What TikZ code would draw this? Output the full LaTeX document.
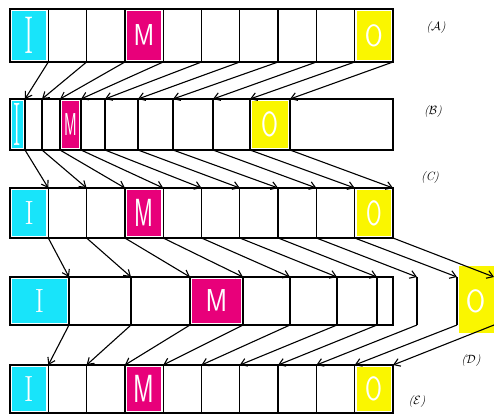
\documentclass[tikz,border=0pt]{standalone}
\usepackage{graphicx}
\usetikzlibrary{arrows.meta,positioning}

\definecolor{cyanI}{RGB}{24,228,250}
\definecolor{magentaM}{RGB}{232,0,122}
\definecolor{yellowO}{RGB}{250,246,0}

\begin{document}
\begin{tikzpicture}[
    x=1pt, y=-1pt,
    cell/.style={draw, line width=1.3pt, inner sep=0pt, outer sep=0pt, minimum height=#1},
    hollow/.style={inner sep=0pt, outer sep=0pt, minimum height=#1},
    letter/.style={text=white, inner sep=0pt, font=\fontsize{28}{28}\selectfont},
    tag/.style={font=\large\itshape, inner sep=1pt},
    myedge/.style={-{Straight Barb[length=6pt,width=8pt]}, line width=1.1pt}
]
\useasboundingbox (0,0) rectangle (494,415);

% rows A, C and E: ten equal cells
\foreach \row/\y/\h in {A/35.5/53, C/213/50, E/389/48}
  \foreach \i in {1,...,10}
    \node[cell={\h pt}, minimum width=38.3pt] (\row\i) at ({10+38.3*(\i-0.5)},\y) {};

% row B: squeezed cells plus an empty tail
\foreach \l/\r [count=\i] in {10/25,25/42,42/60,60/81,81/105,105/138,138/173,173/213,213/250,250/290,290/393}
  \node[cell={51pt}, minimum width={(\r-\l)*1pt}] (B\i) at ({(\l+\r)/2},124.5) {};

% row D: stretched cells, the last ones run out of the box
\foreach \l/\r [count=\i] in {10/69,69/131,131/190,190/243,243/290,290/337,337/377}
  \node[cell={48pt}, minimum width={(\r-\l)*1pt}] (D\i) at ({(\l+\r)/2},301) {};
\foreach \l/\r [count=\i from 8] in {377/417,417/457,457/494}
  \node[hollow={48pt}, minimum width={(\r-\l)*1pt}] (D\i) at ({(\l+\r)/2},301) {};
\node[cell={48pt}, minimum width=16pt] (Dcap) at (385,301) {};
\draw[line width=1.3pt] (D8.north east) -- (D8.south east);
\draw[line width=1.3pt] (D9.north east) -- (D9.south east);
\fill[yellowO] ([shift={(1.5pt,11pt)}]D10.north west) rectangle ([shift={(0pt,-8pt)}]D10.south east);

% coloured cells and their letters
\foreach \row/\i/\clr/\txt/\sx/\sy in {
    A/1/cyanI/\rmfamily I/1/1.9, A/4/magentaM/\sffamily M/0.9/1.08, A/10/yellowO/\sffamily O/0.92/1.1,
    B/1/cyanI/\rmfamily I/0.8/2.2, B/4/magentaM/\sffamily M/0.55/1.13, B/10/yellowO/\sffamily O/0.87/1.25,
    C/1/cyanI/\rmfamily I/1/1.2, C/4/magentaM/\sffamily M/0.82/1.4, C/10/yellowO/\sffamily O/0.8/1.25,
    D/1/cyanI/\rmfamily I/1/1.2, D/4/magentaM/\sffamily M/0.94/1.13, D/10/yellowO/\sffamily O/1/1.15,
    E/1/cyanI/\rmfamily I/1/1.3, E/4/magentaM/\sffamily M/0.9/1.4, E/10/yellowO/\sffamily O/0.87/1.2}
{
  \fill[\clr] ([shift={(2pt,-2pt)}]\row\i.north west) rectangle ([shift={(-2pt,2pt)}]\row\i.south east);
  \node[letter] (t\row\i) at (\row\i) {\scalebox{\sx}[\sy]{\txt}};
}

% each boundary moves on to the next row
\foreach \i in {1,...,10} {
  \draw[myedge] (A\i.south east) -- (B\i.north east);
  \draw[myedge] (B\i.south east) -- (C\i.north east);
  \draw[myedge] (C\i.south east) -- (D\i.north east);
  \draw[myedge] (D\i.south east) -- (E\i.north east);
}

\node[tag] (labA) at (436,28) {(\ensuremath{\mathcal{A}})};
\node[tag] (labB) at (433,112) {(\ensuremath{\mathcal{B}})};
\node[tag] (labC) at (430,178) {(C)};
\node[tag] (labD) at (471,360) {(\ensuremath{\mathcal{D}})};
\node[tag] (labE) at (417,401) {(\ensuremath{\mathcal{E}})};
\end{tikzpicture}
\end{document}
